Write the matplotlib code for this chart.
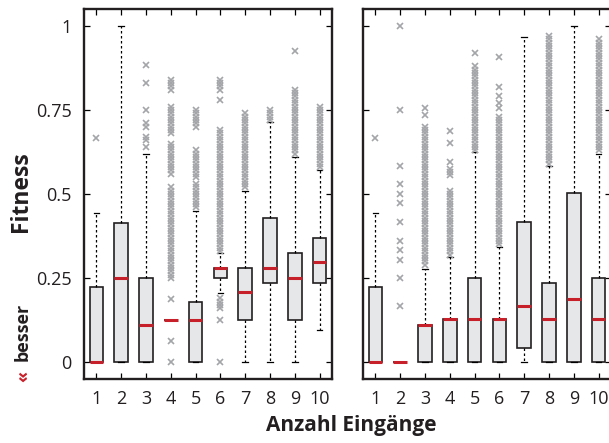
import numpy as np
import matplotlib.pyplot as plt

plt.rcParams['font.family'] = ['Open Sans', 'DejaVu Sans']

# Anzahl Eingaenge 1..10
inputs = list(range(1, 11))
tick_vals = [0, 0.25, 0.5, 0.75, 1]
tick_labels = ['0', '0.25', '0.5', '0.75', '1']

# left panel: box statistics
left_q1 = [0.0, 0.0, 0.0, 0.125, 0.0, 0.25, 0.125, 0.235, 0.125, 0.235]
left_med = [0.0, 0.25, 0.111, 0.125, 0.125, 0.28, 0.208, 0.28, 0.25, 0.297]
left_q3 = [0.223, 0.415, 0.25, 0.125, 0.18, 0.28, 0.28, 0.43, 0.325, 0.37]
left_lo = [0.0, 0.0, 0.0, 0.125, 0.0, 0.205, 0.0, 0.0, 0.0, 0.095]
left_hi = [0.445, 1.0, 0.618, 0.125, 0.45, 0.325, 0.51, 0.715, 0.61, 0.57]
left_fliers = [
    [0.667],
    [],
    [0.64, 0.66, 0.67, 0.70, 0.71, 0.75, 0.83, 0.885],
    [0.0, 0.0625, 0.1875,
     0.25, 0.26, 0.27, 0.28, 0.29, 0.30, 0.31, 0.32, 0.33, 0.34, 0.35, 0.36, 0.37, 0.38,
     0.39, 0.40, 0.41, 0.42, 0.43, 0.44, 0.45, 0.46, 0.47, 0.48, 0.49, 0.50, 0.51, 0.52,
     0.56, 0.57, 0.58, 0.59, 0.60, 0.61, 0.62, 0.63, 0.64, 0.65,
     0.68, 0.69, 0.70, 0.71, 0.72, 0.73, 0.74, 0.75, 0.76,
     0.81, 0.82, 0.83, 0.84],
    [0.46, 0.47, 0.48, 0.49, 0.50, 0.51, 0.52, 0.53,
     0.55, 0.56, 0.57, 0.58, 0.59, 0.60, 0.61, 0.62, 0.63,
     0.70, 0.71, 0.72, 0.73, 0.74, 0.75],
    [0.0, 0.125, 0.16, 0.17, 0.18, 0.19,
     0.33, 0.34, 0.35, 0.36, 0.37, 0.38, 0.39, 0.40, 0.41, 0.42, 0.43, 0.44, 0.45,
     0.46, 0.47, 0.48, 0.49, 0.50, 0.51, 0.52, 0.53, 0.54, 0.55, 0.56, 0.57, 0.58,
     0.59, 0.60, 0.61, 0.62, 0.63, 0.64, 0.65, 0.66, 0.67, 0.68, 0.69,
     0.78, 0.81, 0.82, 0.83, 0.84],
    [0.52, 0.53, 0.54, 0.55, 0.56, 0.57, 0.58, 0.59, 0.60, 0.61, 0.62, 0.63,
     0.64, 0.65, 0.66, 0.67, 0.68, 0.69, 0.70, 0.71, 0.72, 0.73, 0.74],
    [0.72, 0.73, 0.74, 0.75],
    [0.62, 0.63, 0.64, 0.65, 0.66, 0.67, 0.68, 0.69, 0.70, 0.71, 0.72, 0.73,
     0.74, 0.75, 0.76, 0.77, 0.78, 0.79, 0.80, 0.81, 0.925],
    [0.58, 0.59, 0.60, 0.61, 0.62, 0.63, 0.64, 0.65, 0.66, 0.67, 0.68, 0.69,
     0.70, 0.71, 0.72, 0.73, 0.74, 0.75, 0.76],
]

# right panel: box statistics
right_q1 = [0.0, 0.0, 0.0, 0.0, 0.0, 0.0, 0.043, 0.0, 0.0, 0.0]
right_med = [0.0, 0.0, 0.112, 0.127, 0.127, 0.127, 0.167, 0.127, 0.188, 0.127]
right_q3 = [0.223, 0.0, 0.112, 0.127, 0.25, 0.127, 0.416, 0.235, 0.502, 0.25]
right_lo = [0.0, 0.0, 0.0, 0.0, 0.0, 0.0, 0.0, 0.0, 0.0, 0.0]
right_hi = [0.445, 0.0, 0.277, 0.312, 0.624, 0.342, 0.968, 0.584, 1.0, 0.62]
right_fliers = [
    [0.667],
    [0.167, 0.25, 0.305, 0.333, 0.361, 0.416, 0.472, 0.50, 0.53, 0.583, 0.75, 1.0],
    [0.29, 0.30, 0.31, 0.32, 0.33, 0.34, 0.35, 0.36, 0.37, 0.38, 0.39, 0.40,
     0.41, 0.42, 0.43, 0.44, 0.45, 0.46, 0.47, 0.48, 0.49, 0.50, 0.51, 0.52,
     0.53, 0.54, 0.55, 0.56, 0.57, 0.58, 0.59, 0.60, 0.61, 0.62, 0.63, 0.64,
     0.65, 0.66, 0.67, 0.68, 0.69, 0.70, 0.735, 0.755],
    [0.32, 0.33, 0.34, 0.35, 0.36, 0.37, 0.38, 0.39, 0.40, 0.41, 0.42, 0.43,
     0.44, 0.45, 0.46, 0.47, 0.48, 0.49, 0.50, 0.51,
     0.555, 0.565, 0.575, 0.595, 0.653, 0.688],
    [0.63, 0.64, 0.65, 0.66, 0.67, 0.68, 0.69, 0.70, 0.71, 0.72, 0.73, 0.74,
     0.75, 0.76, 0.77, 0.78, 0.79, 0.80, 0.81, 0.82, 0.83, 0.84, 0.85, 0.86,
     0.87, 0.88, 0.92],
    [0.35, 0.36, 0.37, 0.38, 0.39, 0.40, 0.41, 0.42, 0.43, 0.44, 0.45, 0.46,
     0.47, 0.48, 0.49, 0.50, 0.51, 0.52, 0.53, 0.54, 0.55, 0.56, 0.57, 0.58,
     0.59, 0.60, 0.61, 0.62, 0.63, 0.64, 0.65, 0.66, 0.67, 0.68, 0.69, 0.70,
     0.71, 0.72, 0.73, 0.755, 0.77, 0.79, 0.817, 0.906],
    [],
    [0.59, 0.60, 0.61, 0.62, 0.63, 0.64, 0.65, 0.66, 0.67, 0.68, 0.69, 0.70,
     0.71, 0.72, 0.73, 0.74, 0.75, 0.76, 0.77, 0.78, 0.79, 0.80, 0.81, 0.82,
     0.83, 0.84, 0.85, 0.86, 0.87, 0.88, 0.89, 0.90, 0.91, 0.92, 0.93, 0.94,
     0.95, 0.96, 0.97],
    [],
    [0.63, 0.64, 0.65, 0.66, 0.67, 0.68, 0.69, 0.70, 0.71, 0.72, 0.73, 0.74,
     0.75, 0.76, 0.77, 0.78, 0.79, 0.80, 0.81, 0.82, 0.83, 0.84, 0.85, 0.86,
     0.87, 0.88, 0.89, 0.90, 0.91, 0.92, 0.93, 0.94, 0.95, 0.96],
]

box_face = '#e6e7e8'
box_edge = '#231f20'
med_red = '#c8202a'
flier_grey = '#a3a5a8'


def make_stats(q1, med, q3, lo, hi, fliers):
    stats = []
    for i in range(len(q1)):
        stats.append(dict(q1=q1[i], med=med[i], q3=q3[i], whislo=lo[i],
                          whishi=hi[i], fliers=np.array(fliers[i])))
    return stats


def draw_panel(ax, stats, show_labels):
    ax.bxp(stats, positions=inputs, widths=0.55, capwidths=0.22,
           patch_artist=True, showfliers=True,
           boxprops=dict(facecolor=box_face, edgecolor=box_edge, linewidth=1.2),
           medianprops=dict(color=med_red, linewidth=2.2, solid_capstyle='butt'),
           whiskerprops=dict(color='black', linewidth=0.9, linestyle=(0, (2, 2))),
           capprops=dict(color='black', linewidth=0.9),
           flierprops=dict(marker='x', markeredgecolor=flier_grey, markersize=4.5,
                           markeredgewidth=1.2, linestyle='none'))
    ax.set_xlim(0.5, 10.5)
    ax.set_ylim(-0.05, 1.05)
    ax.set_xticks(inputs)
    ax.set_xticklabels([str(v) for v in inputs], fontsize=13, color='#231f20')
    ax.set_yticks(tick_vals)
    if show_labels:
        ax.set_yticklabels(tick_labels, fontsize=13, color='#231f20')
    else:
        ax.set_yticklabels([])
    ax.tick_params(direction='in', top=True, right=True, length=4, width=0.9)
    ax.tick_params(axis='x', pad=8)
    ax.tick_params(axis='y', pad=9)
    for s in ax.spines.values():
        s.set_linewidth(1.7)
        s.set_color('#231f20')


fig = plt.figure(figsize=(6.09, 4.43), dpi=100)
ax1 = fig.add_axes([84 / 609, 64 / 443, 248 / 609, 370 / 443])
ax2 = fig.add_axes([363 / 609, 64 / 443, 248 / 609, 370 / 443])

draw_panel(ax1, make_stats(left_q1, left_med, left_q3, left_lo, left_hi, left_fliers), True)
draw_panel(ax2, make_stats(right_q1, right_med, right_q3, right_lo, right_hi, right_fliers), False)

fig.text(21 / 609, 1 - 192 / 443, 'Fitness', rotation=90, fontsize=16.5,
         fontweight='bold', ha='center', va='center', color='#231f20')
fig.text(23 / 609, 1 - 332 / 443, 'besser', rotation=90, fontsize=13,
         fontweight='bold', ha='center', va='center', color='#231f20')
fig.text(23 / 609, 1 - 376 / 443, '«', rotation=90, fontsize=13,
         fontweight='bold', ha='center', va='center', color=med_red)
fig.text(351 / 609, 1 - 425 / 443, 'Anzahl Eingänge', fontsize=15,
         fontweight='bold', ha='center', va='center', color='#231f20')

fig.savefig('out.png', dpi=100)
